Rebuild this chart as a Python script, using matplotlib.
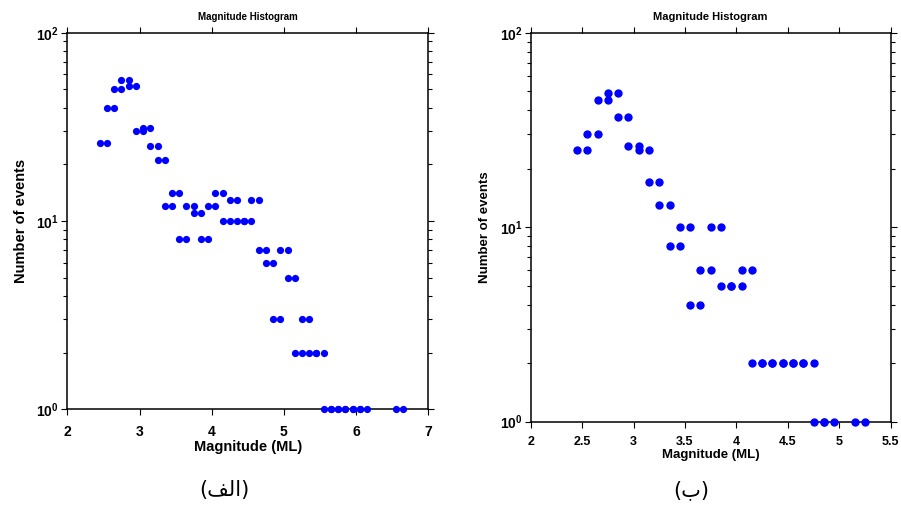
import matplotlib

matplotlib.use("Agg")
import matplotlib.pyplot as plt
import numpy as np

plt.rcParams["font.family"] = ["Liberation Sans", "DejaVu Sans"]
plt.rcParams["font.weight"] = "bold"
plt.rcParams["mathtext.fontset"] = "custom"
plt.rcParams["mathtext.rm"] = "Liberation Sans"
plt.rcParams["mathtext.bf"] = "Liberation Sans:bold"

# panel (a): bin centres (ML) and counts
mag_a = [2.5, 2.6, 2.7, 2.8, 2.9, 3.0, 3.1, 3.2, 3.3, 3.4, 3.5, 3.6, 3.7,
         3.8, 3.9, 4.0, 4.1, 4.2, 4.3, 4.4, 4.5, 4.6, 4.7, 4.8, 4.9, 5.0,
         5.1, 5.2, 5.3, 5.4, 5.5, 5.6, 5.7, 5.8, 5.9, 6.0, 6.1, 6.6]
cnt_a = [26, 40, 50, 56, 52, 30, 31, 25, 21, 12, 14, 8, 12,
         11, 8, 12, 14, 10, 13, 10, 10, 13, 7, 6, 3, 7,
         5, 2, 3, 2, 2, 1, 1, 1, 1, 1, 1, 1]

# panel (b)
mag_b = [2.5, 2.6, 2.7, 2.8, 2.9, 3.0, 3.1, 3.2, 3.3, 3.4, 3.5, 3.6, 3.7,
         3.8, 3.9, 4.0, 4.1, 4.2, 4.3, 4.4, 4.5, 4.6, 4.7, 4.8, 4.9, 5.2]
cnt_b = [25, 30, 45, 49, 37, 26, 25, 17, 13, 8, 10, 4, 6,
         10, 5, 5, 6, 2, 2, 2, 2, 2, 2, 1, 1, 1]

xticks_a = [2, 3, 4, 5, 6, 7]
xticks_b = [2, 2.5, 3, 3.5, 4, 4.5, 5, 5.5]
xlabels_b = ["2", "2.5", "3", "3.5", "4", "4.5", "5", "5.5"]
yticks = [1, 10, 100]
ylabels = [r"$\mathbf{10^{0}}$", r"$\mathbf{10^{1}}$", r"$\mathbf{10^{2}}$"]

HALF = 0.05  # each bin drawn as two dots at its edges


def panel(ax, mag, cnt, xlim, xticks, xlabels, fs_tick, fs_lab, fs_title, ms, xpad):
    m = np.asarray(mag)
    c = np.asarray(cnt)
    x = np.concatenate([m - HALF, m + HALF])
    y = np.concatenate([c, c])
    ax.plot(x, y, "o", color="#0000ff", ms=ms, mec="none", clip_on=False, zorder=3)
    ax.set_yscale("log")
    ax.set_xlim(*xlim)
    ax.set_ylim(1, 100)
    ax.set_xticks(xticks)
    ax.set_xticklabels(xlabels, fontsize=fs_tick, fontweight="bold")
    ax.set_yticks(yticks)
    ax.set_yticklabels(ylabels, fontsize=10)
    ax.xaxis.set_minor_locator(matplotlib.ticker.NullLocator())
    ax.tick_params(which="both", direction="out", top=True, right=True,
                   labeltop=False, labelright=False, width=0.8, pad=2)
    ax.tick_params(axis="x", which="major", pad=xpad)
    ax.tick_params(which="major", length=4)
    ax.tick_params(which="minor", length=3)
    for s in ax.spines.values():
        s.set_linewidth(1.1)
    ax.set_xlabel("Magnitude (ML)", fontsize=fs_lab, fontweight="bold", labelpad=1)
    ax.set_ylabel("Number of events", fontsize=fs_lab, fontweight="bold", labelpad=6)
    ax.set_title("Magnitude Histogram", fontsize=fs_title, fontweight="bold", pad=9)


fig = plt.figure(figsize=(9.01, 5.08), dpi=100)
ax1 = fig.add_axes([0.0747, 0.1943, 0.4007, 0.7413])
ax2 = fig.add_axes([0.589, 0.1699, 0.3996, 0.7657])

panel(ax1, mag_a, cnt_a, (2, 7), xticks_a, [str(t) for t in xticks_a], 10, 10.5, 7, 5.2, 7)
panel(ax2, mag_b, cnt_b, (2, 5.5), xticks_b, xlabels_b, 9, 9.5, 8, 6, 6)

# Arabic panel captions, written in visual order with presentation forms
# because matplotlib does no Arabic shaping: (الف) and (ب)
fig.text(0.249, 0.035, "(\ufed2\ufedf\ufe8d)", ha="center", va="center",
         fontsize=15, fontweight="normal", family=["DejaVu Sans"])
fig.text(0.767, 0.035, "(\ufe8f)", ha="center", va="center",
         fontsize=15, fontweight="normal", family=["DejaVu Sans"])

fig.savefig("out.png", dpi=100)
